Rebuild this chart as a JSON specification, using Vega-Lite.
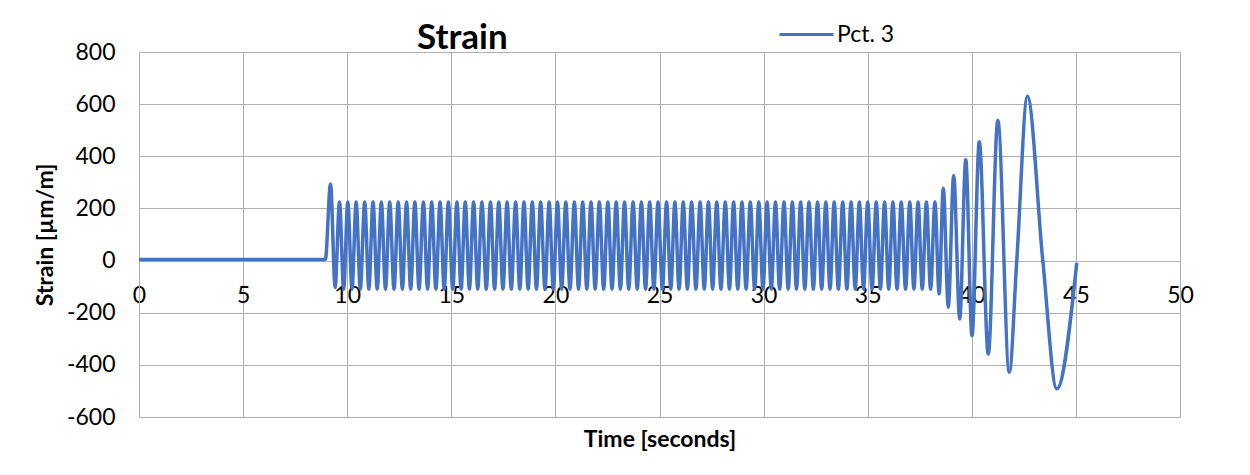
{
  "$schema": "https://vega.github.io/schema/vega-lite/v6.json",
  "width": 1041,
  "height": 365,
  "autosize": "none",
  "padding": {"left": 139, "top": 52, "right": 70, "bottom": 58},
  "background": "white",
  "config": {"view": {"stroke": null}},
  "title": {"text": "Strain", "anchor": "start", "frame": "group", "dx": 278, "dy": 80, "offset": 2, "baseline": "alphabetic", "font": "Lato", "fontSize": 35, "fontWeight": "bold", "color": "black"},
  "data": {"values": [
    {"t":0,"v":4},{"t":8.95,"v":4},{"t":9.2,"v":294},{"t":9.42,"v":-103},
    {"t":9.63,"v":225},{"t":9.83,"v":-110},{"t":10.03,"v":225},{"t":10.23,"v":-110},{"t":10.43,"v":225},{"t":10.63,"v":-110},{"t":10.84,"v":225},{"t":11.04,"v":-110},
    {"t":11.24,"v":225},{"t":11.44,"v":-110},{"t":11.64,"v":225},{"t":11.84,"v":-110},{"t":12.04,"v":225},{"t":12.25,"v":-110},{"t":12.45,"v":225},{"t":12.65,"v":-110},
    {"t":12.85,"v":225},{"t":13.05,"v":-110},{"t":13.25,"v":225},{"t":13.45,"v":-110},{"t":13.66,"v":225},{"t":13.86,"v":-110},{"t":14.06,"v":225},{"t":14.26,"v":-110},
    {"t":14.46,"v":225},{"t":14.66,"v":-110},{"t":14.86,"v":225},{"t":15.07,"v":-110},{"t":15.27,"v":225},{"t":15.47,"v":-110},{"t":15.67,"v":225},{"t":15.87,"v":-110},
    {"t":16.07,"v":225},{"t":16.27,"v":-110},{"t":16.47,"v":225},{"t":16.68,"v":-110},{"t":16.88,"v":225},{"t":17.08,"v":-110},{"t":17.28,"v":225},{"t":17.48,"v":-110},
    {"t":17.68,"v":225},{"t":17.88,"v":-110},{"t":18.09,"v":225},{"t":18.29,"v":-110},{"t":18.49,"v":225},{"t":18.69,"v":-110},{"t":18.89,"v":225},{"t":19.09,"v":-110},
    {"t":19.29,"v":225},{"t":19.5,"v":-110},{"t":19.7,"v":225},{"t":19.9,"v":-110},{"t":20.1,"v":225},{"t":20.3,"v":-110},{"t":20.5,"v":225},{"t":20.7,"v":-110},
    {"t":20.91,"v":225},{"t":21.11,"v":-110},{"t":21.31,"v":225},{"t":21.51,"v":-110},{"t":21.71,"v":225},{"t":21.91,"v":-110},{"t":22.11,"v":225},{"t":22.32,"v":-110},
    {"t":22.52,"v":225},{"t":22.72,"v":-110},{"t":22.92,"v":225},{"t":23.12,"v":-110},{"t":23.32,"v":225},{"t":23.52,"v":-110},{"t":23.73,"v":225},{"t":23.93,"v":-110},
    {"t":24.13,"v":225},{"t":24.33,"v":-110},{"t":24.53,"v":225},{"t":24.73,"v":-110},{"t":24.93,"v":225},{"t":25.14,"v":-110},{"t":25.34,"v":225},{"t":25.54,"v":-110},
    {"t":25.74,"v":225},{"t":25.94,"v":-110},{"t":26.14,"v":225},{"t":26.34,"v":-110},{"t":26.54,"v":225},{"t":26.75,"v":-110},{"t":26.95,"v":225},{"t":27.15,"v":-110},
    {"t":27.35,"v":225},{"t":27.55,"v":-110},{"t":27.75,"v":225},{"t":27.95,"v":-110},{"t":28.16,"v":225},{"t":28.36,"v":-110},{"t":28.56,"v":225},{"t":28.76,"v":-110},
    {"t":28.96,"v":225},{"t":29.16,"v":-110},{"t":29.36,"v":225},{"t":29.57,"v":-110},{"t":29.77,"v":225},{"t":29.97,"v":-110},{"t":30.17,"v":225},{"t":30.37,"v":-110},
    {"t":30.57,"v":225},{"t":30.77,"v":-110},{"t":30.98,"v":225},{"t":31.18,"v":-110},{"t":31.38,"v":225},{"t":31.58,"v":-110},{"t":31.78,"v":225},{"t":31.98,"v":-110},
    {"t":32.18,"v":225},{"t":32.39,"v":-110},{"t":32.59,"v":225},{"t":32.79,"v":-110},{"t":32.99,"v":225},{"t":33.19,"v":-110},{"t":33.39,"v":225},{"t":33.59,"v":-110},
    {"t":33.8,"v":225},{"t":34.0,"v":-110},{"t":34.2,"v":225},{"t":34.4,"v":-110},{"t":34.6,"v":225},{"t":34.8,"v":-110},{"t":35.0,"v":225},{"t":35.21,"v":-110},
    {"t":35.41,"v":225},{"t":35.61,"v":-110},{"t":35.81,"v":225},{"t":36.01,"v":-110},{"t":36.21,"v":225},{"t":36.41,"v":-110},{"t":36.61,"v":225},{"t":36.82,"v":-110},
    {"t":37.02,"v":225},{"t":37.22,"v":-110},{"t":37.42,"v":225},{"t":37.62,"v":-110},{"t":37.82,"v":225},{"t":38.02,"v":-110},{"t":38.23,"v":225},
    {"t":38.43,"v":-128},{"t":38.63,"v":277},{"t":38.87,"v":-179},{"t":39.13,"v":326},{"t":39.42,"v":-224},{"t":39.71,"v":387},{"t":40.01,"v":-288},
    {"t":40.36,"v":456},{"t":40.79,"v":-358},{"t":41.25,"v":537},{"t":41.8,"v":-428},{"t":42.16,"v":0},{"t":42.67,"v":630},{"t":43.41,"v":0},
    {"t":44.08,"v":-492},{"t":45.04,"v":-9}
  ]},
  "mark": {"type": "line", "interpolate": "monotone", "strokeWidth": 3.5},
  "encoding": {
    "x": {"field": "t", "type": "quantitative",
      "scale": {"domain": [0, 50], "nice": false, "zero": false},
      "axis": {"values": [0,5,10,15,20,25,30,35,40,45,50], "offset": -156, "labelPadding": 23, "ticks": false, "domain": false,
        "grid": true, "gridColor": "#b0b0b0", "gridWidth": 1,
        "labelFont": "Lato", "labelFontSize": 23, "labelColor": "black", "labelFlush": false, "labelOverlap": false,
        "title": "Time [seconds]", "titleFont": "Lato", "titleFontSize": 23, "titleFontWeight": "bold", "titleColor": "black",
        "titleY": 178, "titleBaseline": "middle"}},
    "y": {"field": "v", "type": "quantitative",
      "scale": {"domain": [-600, 800], "nice": false, "zero": false},
      "axis": {"values": [-600,-400,-200,0,200,400,600,800], "labelPadding": 24, "ticks": false, "domain": true, "domainColor": "#b0b0b0",
        "labelExpr": "datum.value < 0 ? '-' + abs(datum.value) : '' + datum.value",
        "grid": true, "gridColor": "#b0b0b0", "gridWidth": 1,
        "labelFont": "Lato", "labelFontSize": 23, "labelColor": "black",
        "title": "Strain [µm/m]", "titleFont": "Lato", "titleFontSize": 23, "titleFontWeight": "bold", "titleColor": "black",
        "titleX": -87, "titleBaseline": "alphabetic"}},
    "color": {"datum": "Pct. 3", "type": "nominal", "scale": {"range": ["#4472C4"]},
      "legend": {"orient": "none", "legendX": 639, "legendY": -46, "title": null, "padding": 0,
        "symbolType": "stroke", "symbolSize": 2916, "symbolStrokeWidth": 3,
        "labelFont": "Lato", "labelFontSize": 23, "labelColor": "black", "labelOffset": 2}}
  }
}
